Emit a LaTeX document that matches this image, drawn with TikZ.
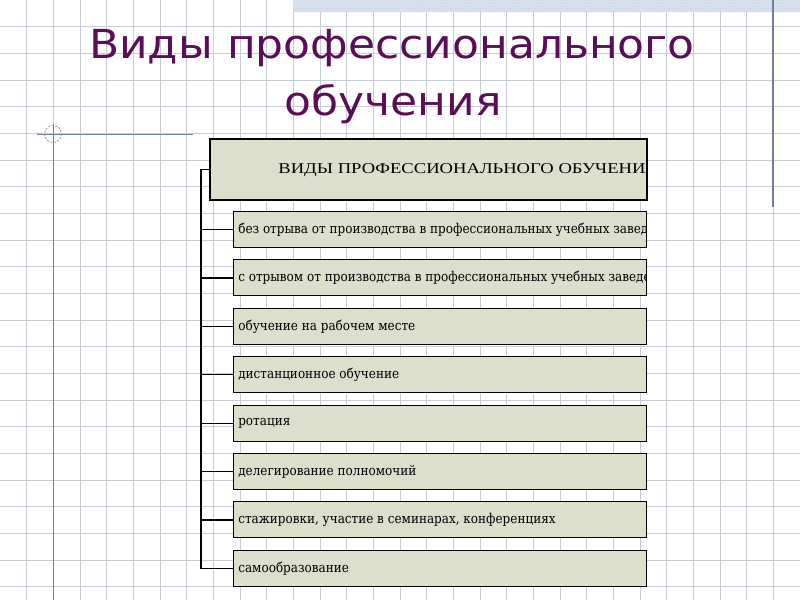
\documentclass[tikz,border=0pt]{standalone}
\usepackage{fontspec}
\setmainfont{DejaVu Serif}
\newfontfamily\titlefont{DejaVu Sans}
\newfontfamily\headfont{Liberation Serif}
\usetikzlibrary{patterns}
\definecolor{gridc}{RGB}{200,204,214}
\definecolor{bluel}{RGB}{112,126,160}
\definecolor{boxfill}{RGB}{221,223,205}
\definecolor{titlec}{RGB}{90,14,86}
\definecolor{bandc}{RGB}{214,224,238}
\begin{document}
\begin{tikzpicture}[x=1pt,y=-1pt,
  gridline/.style={gridc, line width=0.8pt},
  deco/.style={bluel, line width=1pt},
  titletext/.style={anchor=base, text=titlec, inner sep=0pt, font=\titlefont\fontsize{40}{48}\selectfont},
  headbox/.style={draw=black, line width=2.4pt, fill=boxfill, minimum width=437pt, minimum height=61pt, inner sep=0pt, anchor=north west},
  itembox/.style={draw=black, line width=1.3pt, fill=boxfill, minimum width=413pt, minimum height=36pt, inner sep=0pt, anchor=north west},
  innertext/.style={anchor=west, inner sep=0pt, draw=none, fill=none, minimum width=0pt, minimum height=0pt},
  itemtext/.style={innertext, font=\fontsize{13.5}{15}\selectfont},
  conn/.style={black, line width=1.2pt},
  thickconn/.style={black, line width=2.2pt}
]
\useasboundingbox (0,0) rectangle (800,600);
\fill[white] (0,0) rectangle (800,600);
% grid
\foreach \i in {1,...,29} \draw[gridline] (\i*26.667,0) -- (\i*26.667,600);
\foreach \j in {1,...,22} \draw[gridline] (0,\j*26.667) -- (800,\j*26.667);
% top band
\fill[bandc] (293,0) rectangle (800,12);
\fill[pattern=dots, pattern color=bluel!50] (293,0) rectangle (800,12);
% decorations
\draw[deco, line width=1.3pt] (773,0) -- (773,207);
\draw[deco] (37,134) -- (193,134);
\draw[deco] (53,124) -- (53,600);
\draw[gray!80, dash pattern=on 2pt off 1.5pt, line width=0.8pt] (53,134) circle (8.5);
% title
\node[titletext] (title1) at (392,58) {\scalebox{1.1}[1]{Виды профессионального}};
\node[titletext] (title2) at (393,115) {\scalebox{1.1}[1]{обучения}};
% head box
\node[headbox, path picture={\node[innertext, font=\headfont\fontsize{15}{17}\selectfont] at ([xshift=67pt]path picture bounding box.west) {\scalebox{1.24}[1]{ВИДЫ ПРОФЕССИОНАЛЬНОГО ОБУЧЕНИЯ}};}] (head) at (209,138) {};
% items
\newcommand\itembox[3]{%
  \node[itembox, path picture={\node[itemtext] at ([xshift=4pt]path picture bounding box.west) {\scalebox{0.89}[1]{#3}};}] (#1) at (233,#2) {};}
\itembox{b1}{211}{без отрыва от производства в профессиональных учебных заведениях}
\itembox{b2}{259}{с отрывом от производства в профессиональных учебных заведениях}
\itembox{b3}{308}{обучение на рабочем месте}
\itembox{b4}{356}{дистанционное обучение}
\itembox{b5}{405}{ротация}
\itembox{b6}{453}{делегирование полномочий}
\itembox{b7}{501}{стажировки, участие в семинарах, конференциях}
\itembox{b8}{550}{самообразование}
% connectors
\draw[conn] (head.west) -- ++(-8,0) coordinate (t0) -- (t0 |- b8.west) -- (b8.west);
\foreach \b in {b1,b3,b4,b5,b6} \draw[conn] (t0 |- \b.west) -- (\b.west);
\foreach \b in {b2,b7} \draw[thickconn] (t0 |- \b.west) -- (\b.west);
\end{tikzpicture}
\end{document}
